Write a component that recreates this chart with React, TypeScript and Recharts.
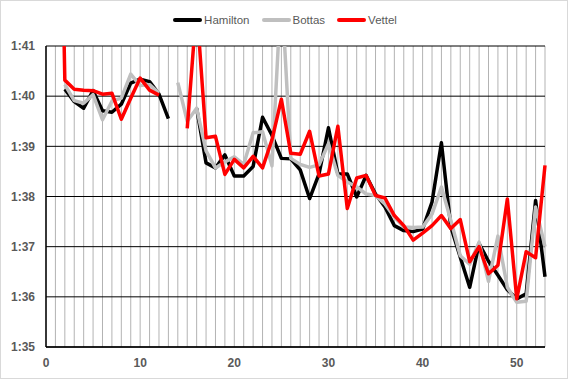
import { LineChart, Line, XAxis, YAxis, CartesianGrid } from 'recharts';

// lap times in seconds (95 = 1:35), null = no lap shown
const laps: number[] = Array.from({ length: 53 }, (_, i) => i + 1);

const hamilton: (number | null)[] = [
  null, 100.14, 99.89, 99.76, 100.11, 99.71, 99.68, 99.84, 100.26, 100.34,
  100.29, 100.04, 99.55, null, null, 99.76, 98.67, 98.57, 98.83, 98.41,
  98.41, 98.6, 99.58, 99.22, 98.76, 98.75, 98.53, 97.96, 98.45, 99.37,
  98.45, 98.45, 97.99, 98.42, 98.05, 97.79, 97.42, 97.32, 97.3, 97.35,
  97.89, 99.07, 97.39, 96.79, 96.19, 97.06, 96.71, 96.43, 96.14, 95.96,
  96.06, 97.92, 96.4,
];

const bottas: (number | null)[] = [
  null, 100.23, 99.91, 99.86, 100.03, 99.53, 99.9, 99.96, 100.44, 100.21,
  100.23, 100.06, null, 100.27, 99.5, 99.76, 98.91, 98.57, 98.69, 98.79,
  98.64, 99.27, 99.29, 98.61, 102.2, 98.76, 98.64, 98.58, 98.63, 99.05,
  98.42, 98.29, 98.19, 98.05, 98.02, 97.85, 97.59, 97.39, 97.38, 97.39,
  97.65, 98.19, 97.52, 96.82, 96.65, 97.09, 96.31, 97.21, 96.19, 95.89,
  95.91, 97.79, 97.0,
];

const vettel: (number | null)[] = [
  110, 100.32, 100.14, 100.12, 100.11, 100.04, 100.06, 99.54, 99.96, 100.36,
  100.12, 100.02, null, null, 99.36, 101.8, 99.17, 99.2, 98.44, 98.74,
  98.57, 98.8, 98.57, 99.13, 99.94, 98.86, 98.84, 99.3, 98.41, 98.45,
  99.4, 97.76, 98.37, 98.42, 98.02, 97.97, 97.62, 97.42, 97.13, 97.27,
  97.42, 97.62, 97.36, 97.54, 96.7, 97.0, 96.46, 96.63, 97.95, 95.96,
  96.9, 96.78, 98.62,
];

const yTicks = [95, 96, 97, 98, 99, 100, 101];
const xTicks: number[] = Array.from({ length: 54 }, (_, i) => i);

const seriesNames = ['Hamilton', 'Bottas', 'Vettel'];
const seriesColors = ['#000000', '#bfbfbf', '#ff0000'];

const data = laps.map((lap, i) => ({
  lap,
  Hamilton: hamilton[i],
  Bottas: bottas[i],
  Vettel: vettel[i],
}));

const fmtTime = (v: number) => `1:${v - 60}`;
const fmtLap = (v: number) => (v % 10 === 0 ? String(v) : '');

const tickStyle = {
  fill: '#595959',
  fontSize: 12,
  fontWeight: 'bold' as const,
  fontFamily: '"Liberation Sans", Arial, sans-serif',
};

const App = () => {
  return (
    <div
      style={{
        position: 'absolute',
        left: 0,
        top: 0,
        width: 568,
        height: 379,
        border: '1px solid #d9d9d9',
        boxSizing: 'border-box',
        background: '#fff',
      }}
    >
      <div
        style={{
          position: 'absolute',
          left: 0,
          top: 11,
          width: 568,
          display: 'flex',
          justifyContent: 'center',
          fontFamily: '"Liberation Sans", Arial, sans-serif',
          fontSize: 11.5,
          color: '#595959',
        }}
      >
        {seriesNames.map((name, i) => (
          <div key={name} style={{ display: 'flex', alignItems: 'center', marginRight: i < 2 ? 12 : 0 }}>
            <svg width={29} height={16}>
              <line x1={2} y1={8} x2={27} y2={8} stroke={seriesColors[i]} strokeWidth={4} strokeLinecap='round' />
            </svg>
            <span style={{ marginLeft: 2 }}>{name}</span>
          </div>
        ))}
      </div>
      <LineChart
        width={568}
        height={379}
        data={data}
        margin={{ top: 46, right: 23, left: -1, bottom: 0 }}
        style={{ position: 'absolute', left: -1, top: -1 }}
      >
        <CartesianGrid horizontal={false} stroke='#b3b3b3' strokeWidth={1} />
        <CartesianGrid vertical={false} stroke='#000000' strokeWidth={1} />
        <XAxis
          dataKey='lap'
          type='number'
          domain={[0, 53]}
          ticks={xTicks}
          interval={0}
          tickFormatter={fmtLap}
          tickLine={false}
          tickSize={6}
          tickMargin={5}
          height={32}
          axisLine={{ stroke: '#000', strokeWidth: 1.5 }}
          tick={tickStyle}
        />
        <YAxis
          type='number'
          domain={[95, 101]}
          ticks={yTicks}
          allowDataOverflow
          tickFormatter={fmtTime}
          tickLine={false}
          tickSize={6}
          tickMargin={5}
          width={47}
          axisLine={{ stroke: '#000', strokeWidth: 1.5 }}
          tick={tickStyle}
        />
        {seriesNames.map((name, i) => (
          <Line
            key={name}
            dataKey={name}
            stroke={seriesColors[i]}
            strokeWidth={3.5}
            strokeLinejoin='round'
            dot={false}
            activeDot={false}
            isAnimationActive={false}
            connectNulls={false}
            type='linear'
          />
        ))}
      </LineChart>
    </div>
  );
};

export default App;
